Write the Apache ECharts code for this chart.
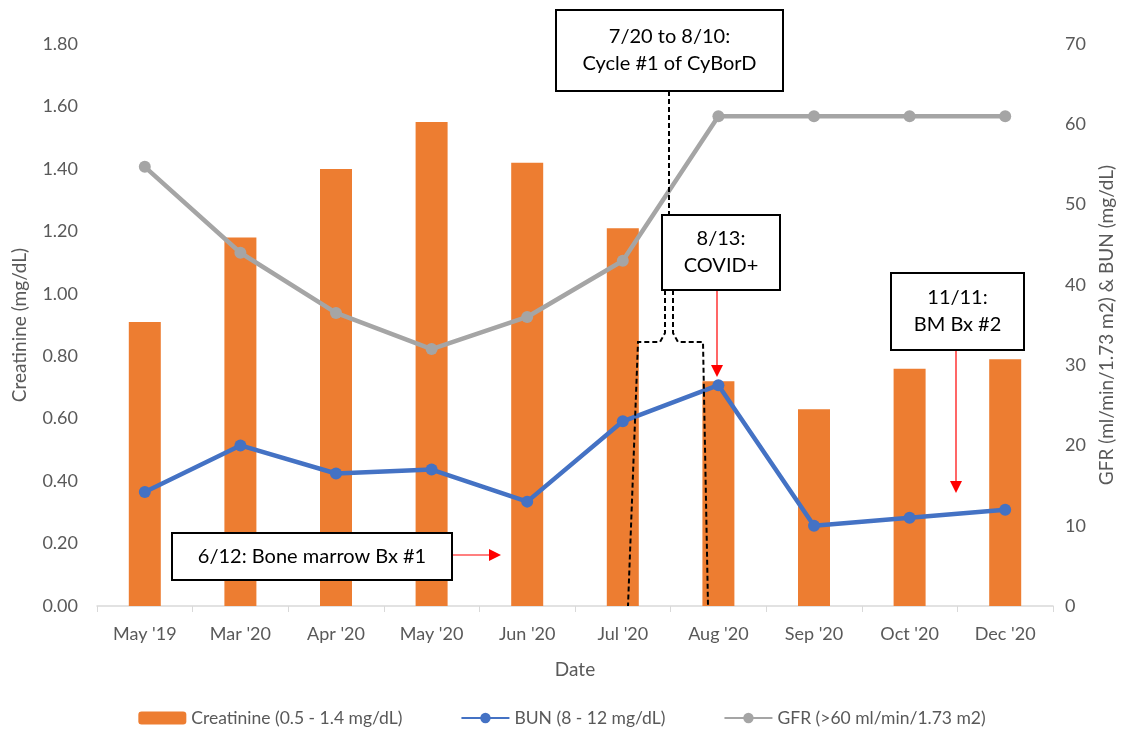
<!DOCTYPE html>
<html>
<head>
<meta charset="utf-8">
<script src="https://cdn.jsdelivr.net/npm/echarts@6/dist/echarts.min.js"></script>
<style>
html,body{margin:0;padding:0;background:#fff;}
#chart{width:1124px;height:735px;}
</style>
</head>
<body>
<div id="chart"></div>
<script>
const categories = ["May '19", "Mar '20", "Apr '20", "May '20", "Jun '20", "Jul '20", "Aug '20", "Sep '20", "Oct '20", "Dec '20"];
const creatinine = [0.91, 1.18, 1.40, 1.55, 1.42, 1.21, 0.72, 0.63, 0.76, 0.79];
const bun = [14.2, 20.0, 16.5, 17.0, 13.0, 23.0, 27.5, 10.0, 11.0, 12.0];
const gfr = [54.7, 44.0, 36.5, 32.0, 36.0, 43.0, 61.0, 61.0, 61.0, 61.0];
const seriesNames = ['Creatinine (0.5 - 1.4 mg/dL)', 'BUN (8 - 12 mg/dL)', 'GFR (>60 ml/min/1.73 m2)'];

const FONT = 'Lato, "Open Sans", sans-serif';
const GRAY = '#595959';

function box(x, y, w, h, text) {
  return [
    {type: 'rect', z: 110, shape: {x: x, y: y, width: w, height: h},
     style: {fill: '#fff', stroke: '#000', lineWidth: 2}},
    {type: 'text', z: 111, x: x + w / 2, y: y + h / 2,
     style: {text: text, fill: '#000', font: '20px ' + FONT, align: 'center', verticalAlign: 'middle', lineHeight: 27}}
  ];
}
function arrow(x1, y1, x2, y2) {
  const dx = x2 - x1, dy = y2 - y1, L = Math.sqrt(dx * dx + dy * dy);
  const ux = dx / L, uy = dy / L, s = 12, w = 6;
  const bx = x2 - ux * s, by = y2 - uy * s;
  return [
    {type: 'line', z: 105, shape: {x1: x1, y1: y1, x2: bx, y2: by}, style: {stroke: '#ff0000', lineWidth: 1.2}},
    {type: 'polygon', z: 105, shape: {points: [[x2, y2], [bx - uy * w, by + ux * w], [bx + uy * w, by - ux * w]]},
     style: {fill: '#ff0000'}}
  ];
}
const dash = {stroke: '#000', lineWidth: 2, lineDash: [5, 3], fill: null};

const graphics = [].concat(
  [{type: 'polyline', z: 100, shape: {points: [[669, 91], [669, 215]]}, style: dash},
   {type: 'polyline', z: 100, shape: {points: [[665, 290], [665, 333], [660, 342], [638, 342], [628, 606]]}, style: dash},
   {type: 'polyline', z: 100, shape: {points: [[673, 290], [673, 333], [678, 342], [703, 342], [708, 606]]}, style: dash}],
  box(556, 10, 227, 81, '7/20 to 8/10:\nCycle #1 of CyBorD'),
  box(662, 215, 118, 75, '8/13:\nCOVID+'),
  arrow(717, 290, 717, 377),
  box(891, 273, 133, 77, '11/11:\nBM Bx #2'),
  arrow(956, 350, 956, 493),
  box(172, 533, 280, 47, '6/12: Bone marrow Bx #1'),
  arrow(452, 555, 501, 555)
);

const chart = echarts.init(document.getElementById('chart'));
chart.setOption({
  animation: false,
  backgroundColor: '#fff',
  textStyle: {fontFamily: FONT},
  grid: {left: 97, right: 66, top: 44, bottom: 129},
  legend: {
    bottom: 3, left: 'center', itemGap: 58, itemWidth: 48, itemHeight: 13,
    textStyle: {fontSize: 17.5, color: GRAY, fontFamily: FONT},
    data: seriesNames
  },
  xAxis: {
    type: 'category', data: categories, boundaryGap: true,
    name: 'Date', nameLocation: 'middle', nameGap: 54,
    nameTextStyle: {fontSize: 19, color: GRAY},
    axisLine: {lineStyle: {color: '#d9d9d9', width: 1.5}},
    axisTick: {show: true, alignWithLabel: false, length: 6, lineStyle: {color: '#d9d9d9'}},
    axisLabel: {fontSize: 18, color: GRAY, margin: 19}
  },
  yAxis: [
    {type: 'value', min: 0, max: 1.8, interval: 0.2,
     name: 'Creatinine (mg/dL)', nameLocation: 'middle', nameGap: 68, nameRotate: 90,
     nameTextStyle: {fontSize: 19, color: GRAY},
     axisLine: {show: false}, axisTick: {show: false}, splitLine: {show: false},
     axisLabel: {fontSize: 18, color: GRAY, margin: 19, formatter: v => v.toFixed(2)}},
    {type: 'value', min: 0, max: 70, interval: 10, position: 'right',
     name: 'GFR (ml/min/1.73 m2) & BUN (mg/dL)', nameLocation: 'middle', nameGap: 44, nameRotate: 90,
     nameTextStyle: {fontSize: 19, color: GRAY},
     axisLine: {show: false}, axisTick: {show: false}, splitLine: {show: false},
     axisLabel: {fontSize: 18, color: GRAY, margin: 12}}
  ],
  series: [
    {name: seriesNames[0], type: 'bar', yAxisIndex: 0, data: creatinine, barWidth: 32,
     itemStyle: {color: '#ED7D31'}, z: 2},
    {name: seriesNames[1], type: 'line', yAxisIndex: 1, data: bun,
     symbol: 'circle', symbolSize: 12, itemStyle: {color: '#4472C4'},
     lineStyle: {color: '#4472C4', width: 4.5}, z: 4},
    {name: seriesNames[2], type: 'line', yAxisIndex: 1, data: gfr,
     symbol: 'circle', symbolSize: 12, itemStyle: {color: '#A5A5A5'},
     lineStyle: {color: '#A5A5A5', width: 4.5}, z: 3}
  ],
  graphic: graphics
});
</script>
</body>
</html>
